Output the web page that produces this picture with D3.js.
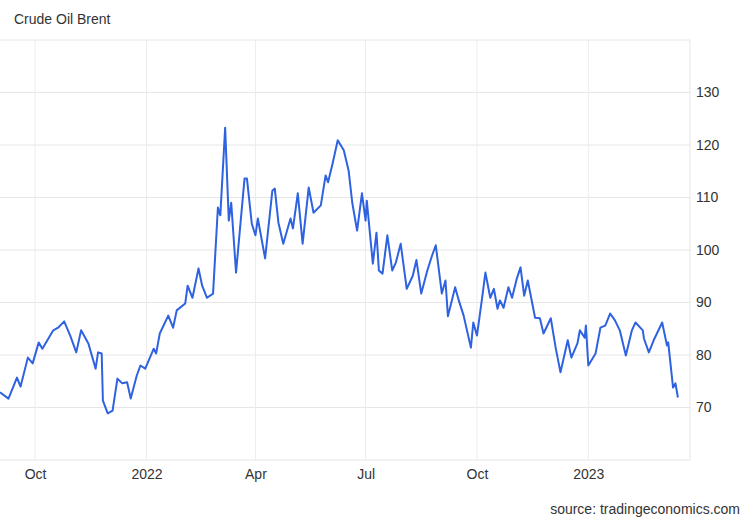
<!DOCTYPE html>
<html><head><meta charset="utf-8">
<script src="https://cdn.jsdelivr.net/npm/d3@7"></script>
<style>body{margin:0;background:#fff;font-family:Arial,"Liberation Sans",sans-serif}</style>
</head><body><svg id="c" width="750" height="520"></svg>
<script>
const dates = ["2021-09-02","2021-09-09","2021-09-16","2021-09-19","2021-09-25","2021-09-29","2021-10-04","2021-10-07","2021-10-16","2021-10-20","2021-10-25","2021-10-30","2021-11-04","2021-11-08","2021-11-14","2021-11-20","2021-11-22","2021-11-25","2021-11-26","2021-11-30","2021-12-04","2021-12-08","2021-12-12","2021-12-16","2021-12-19","2021-12-24","2021-12-27","2021-12-31","2022-01-07","2022-01-09","2022-01-12","2022-01-19","2022-01-23","2022-01-26","2022-02-02","2022-02-04","2022-02-08","2022-02-13","2022-02-16","2022-02-20","2022-02-25","2022-03-01","2022-03-03","2022-03-07","2022-03-10","2022-03-12","2022-03-16","2022-03-21","2022-03-23","2022-03-25","2022-03-29","2022-04-01","2022-04-03","2022-04-09","2022-04-15","2022-04-17","2022-04-20","2022-04-24","2022-04-30","2022-05-02","2022-05-06","2022-05-10","2022-05-15","2022-05-19","2022-05-25","2022-05-29","2022-05-31","2022-06-04","2022-06-08","2022-06-13","2022-06-17","2022-06-20","2022-06-24","2022-06-28","2022-07-01","2022-07-02","2022-07-07","2022-07-10","2022-07-12","2022-07-15","2022-07-19","2022-07-23","2022-07-26","2022-07-30","2022-08-04","2022-08-09","2022-08-12","2022-08-16","2022-08-21","2022-08-25","2022-08-28","2022-09-02","2022-09-05","2022-09-07","2022-09-13","2022-09-16","2022-09-20","2022-09-26","2022-09-28","2022-10-01","2022-10-05","2022-10-08","2022-10-12","2022-10-15","2022-10-18","2022-10-20","2022-10-23","2022-10-27","2022-10-30","2022-11-03","2022-11-06","2022-11-09","2022-11-12","2022-11-18","2022-11-22","2022-11-25","2022-12-01","2022-12-05","2022-12-09","2022-12-15","2022-12-18","2022-12-23","2022-12-25","2022-12-29","2022-12-30","2023-01-01","2023-01-07","2023-01-11","2023-01-15","2023-01-19","2023-01-23","2023-01-27","2023-02-01","2023-02-06","2023-02-09","2023-02-15","2023-02-16","2023-02-20","2023-02-24","2023-03-03","2023-03-07","2023-03-08","2023-03-12","2023-03-14","2023-03-16"];
const prices = [72.9,71.7,75.7,74,79.5,78.4,82.4,81.2,84.7,85.2,86.4,83.7,80.5,84.7,82.2,77.4,80.5,80.3,71.3,68.9,69.4,75.5,74.6,74.8,71.7,76.1,78,77.4,81.2,80.3,84.1,87.5,85.2,88.5,89.8,93.2,90.9,96.5,93.2,90.9,91.7,108.1,106.6,123.3,105.6,109,95.7,108.5,113.6,113.6,105,102.8,106,98.4,111.3,111.7,105.2,101.2,106,104.1,110.8,101.2,111.9,107.1,108.5,114.2,112.9,116.7,120.9,119,115.1,109,103.7,110.8,105.6,109.4,97.4,103.3,96.1,95.5,102.8,96.1,97.6,101.2,92.6,95.1,98.1,91.7,96.1,99,100.9,91.7,94.2,87.4,92.9,90.4,87.5,81.4,86.2,83.7,90.4,95.7,90.9,92.6,88.8,90.4,89,92.9,90.9,94.6,96.7,91.3,94.2,87.1,87,84.1,87,81.4,76.7,82.8,79.5,82.2,84.7,83.3,85.6,78,80.3,85.2,85.6,87.9,86.6,84.7,79.9,84.7,86.2,84.7,83.1,80.5,82.8,86.2,81.8,82.4,73.8,74.6,71.9];
const yTicks = [70,80,90,100,110,120,130];
const xTicks = ["2021-10-01","2022-01-01","2022-04-01","2022-07-01","2022-10-01","2023-01-01"];
const xTickLabels = ["Oct","2022","Apr","Jul","Oct","2023"];

const p = d3.timeParse("%Y-%m-%d");
const data = dates.map((d,i)=>({d:p(d),v:prices[i]}));
const svg = d3.select("#c");
const x = d3.scaleTime().domain([p("2021-09-02"),p("2023-03-26")]).range([0,690]);
const y = d3.scaleLinear().domain([60,140]).range([460,40]);
const g = svg.append("g");
// horizontal grid
g.selectAll("line.h").data(d3.range(60,141,10)).join("line")
 .attr("x1",0).attr("x2",690).attr("y1",d=>y(d)).attr("y2",d=>y(d))
 .attr("stroke","#e6e6e6").attr("stroke-width",1);
// vertical grid
g.selectAll("line.v").data(xTicks.map(p)).join("line")
 .attr("x1",d=>x(d)).attr("x2",d=>x(d)).attr("y1",40).attr("y2",460)
 .attr("stroke","#ececec");
g.append("line").attr("x1",690).attr("x2",690).attr("y1",40).attr("y2",460).attr("stroke","#e6e6e6");
// right axis
const ya = svg.append("g").attr("transform","translate(690,0)")
 .call(d3.axisRight(y).tickValues(yTicks).tickSize(0).tickPadding(6));
ya.select(".domain").remove();
ya.selectAll("text").attr("font-size",14).attr("fill","#333").attr("font-family","Arial,'Liberation Sans',sans-serif");
// bottom axis
const xa = svg.append("g").attr("transform","translate(0,460)")
 .call(d3.axisBottom(x).tickValues(xTicks.map(p)).tickFormat((d,i)=>xTickLabels[i]).tickSize(0).tickPadding(9));
xa.select(".domain").remove();
xa.selectAll("text").attr("font-size",14).attr("fill","#333").attr("font-family","Arial,'Liberation Sans',sans-serif");
// line
svg.append("path").datum(data)
 .attr("d",d3.line().x(d=>x(d.d)).y(d=>y(d.v)))
 .attr("fill","none").attr("stroke","#2f62e0").attr("stroke-width",2).attr("stroke-linejoin","round");
svg.append("text").attr("x",14).attr("y",24).attr("font-size",14).attr("fill","#333").text("Crude Oil Brent");
svg.append("text").attr("x",740).attr("y",514).attr("text-anchor","end").attr("font-size",14).attr("fill","#333").text("source: tradingeconomics.com");
</script></body></html>
